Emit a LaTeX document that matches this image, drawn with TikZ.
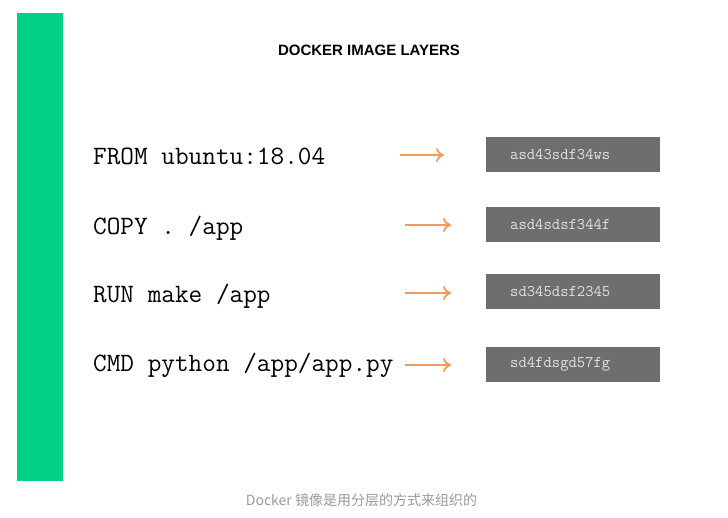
\documentclass[tikz,border=0pt]{standalone}
\usepackage{fontspec}
\newfontfamily\titlefont{Liberation Sans}
\newfontfamily\cjk{Noto Sans CJK SC}
\usepackage{xcolor}
\usetikzlibrary{arrows.meta}
\definecolor{barGreen}{HTML}{00D084}
\definecolor{layerGray}{HTML}{6E6E6E}
\definecolor{hashGray}{HTML}{E2E2E2}
\definecolor{arrOrange}{HTML}{F19A5B}
\definecolor{capGray}{HTML}{9A9A9A}

\begin{document}
\begin{tikzpicture}[x=1pt,y=-1pt,
cmd/.style={anchor=base west,inner sep=0pt,font=\fontsize{26.5}{28}\selectfont\ttfamily},
layer/.style={anchor=north west,fill=layerGray,minimum height=35pt,inner xsep=24pt,inner ysep=0pt,text width=126pt,align=left,text=hashGray,font=\fontsize{16.2}{18}\selectfont\ttfamily},
arr/.style={draw=arrOrange,line width=1.8pt,-{To[length=8pt,width=14pt]}}]
\useasboundingbox (0,0) rectangle (728,518);
\fill[barGreen](17,13)rectangle(63,481);
\node (title) at (369,50) {\titlefont\bfseries\fontsize{15}{18}\selectfont DOCKER IMAGE LAYERS};

\node[cmd] (from) at (93,165) {FROM ubuntu:18.04};
\node[cmd] (copy) at (93,235) {COPY . /app};
\node[cmd] (run) at (93,303) {RUN make /app};
\node[cmd] (cmd) at (93,372) {CMD python /app/app.py};

\node[layer] (l1) at (486,137) {asd43sdf34ws};
\node[layer] (l2) at (486,207) {asd4sdsf344f};
\node[layer] (l3) at (486,274) {sd345dsf2345};
\node[layer] (l4) at (486,347) {sd4fdsgd57fg};

\coordinate (a1) at (400,155); \coordinate (b1) at (444,155);
\coordinate (a2) at (405,225); \coordinate (b2) at (451,225);
\coordinate (a3) at (405,293); \coordinate (b3) at (451,293);
\coordinate (a4) at (405,365); \coordinate (b4) at (451,365);
\draw[arr](a1)--(b1);
\draw[arr](a2)--(b2);
\draw[arr](a3)--(b3);
\draw[arr](a4)--(b4);

\node[text=capGray] (caption) at (361.5,500) {\cjk\fontsize{14}{16}\selectfont Docker 镜像是用分层的方式来组织的};
\end{tikzpicture}
\end{document}
